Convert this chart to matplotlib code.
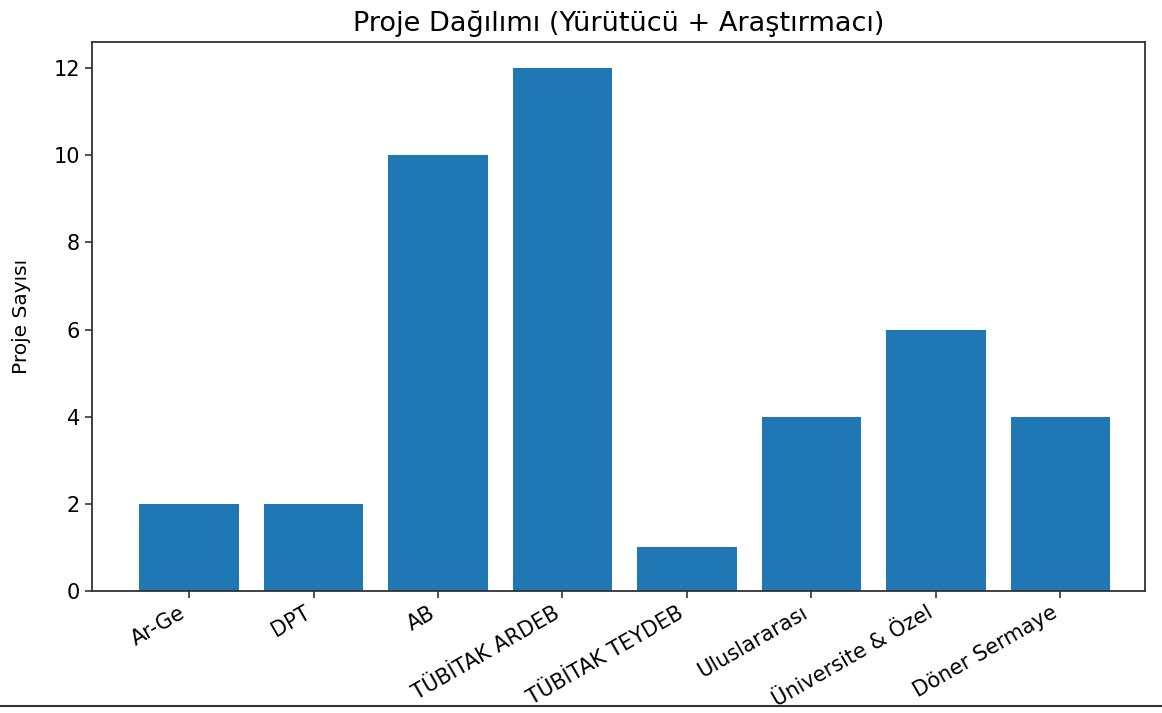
import matplotlib
matplotlib.use("Agg")
import matplotlib.pyplot as plt
from matplotlib.lines import Line2D

categories = ["Ar-Ge", "DPT", "AB", "TÜBİTAK ARDEB", "TÜBİTAK TEYDEB",
              "Uluslararası", "Üniversite & Özel", "Döner Sermaye"]
counts = [2, 2, 10, 12, 1, 4, 6, 4]

fig = plt.figure(figsize=(11.62, 7.13), dpi=100)
ax = fig.add_axes([92/1162, 1-591/713, (1145-92)/1162, (591-42)/713])
ax.bar(categories, counts, color="#1f77b4", width=0.8)
ax.set_xlim(-0.78, 7.68)
ax.set_title("Proje Dağılımı (Yürütücü + Araştırmacı)", fontsize=19.5, pad=8)
ax.set_ylabel("Proje Sayısı", fontsize=14.5, labelpad=16)
ax.tick_params(axis="both", labelsize=15, width=1.2, length=5, color="#333333")
for s in ax.spines.values():
    s.set_linewidth(1.3)
    s.set_color("#333333")
plt.setp(ax.get_xticklabels(), rotation=30, ha="right", rotation_mode="default")
fig.add_artist(Line2D([0, 1], [1-706/713, 1-706/713], color="#333333", lw=1.5,
                      transform=fig.transFigure))
fig.savefig("out.png", dpi=100)
